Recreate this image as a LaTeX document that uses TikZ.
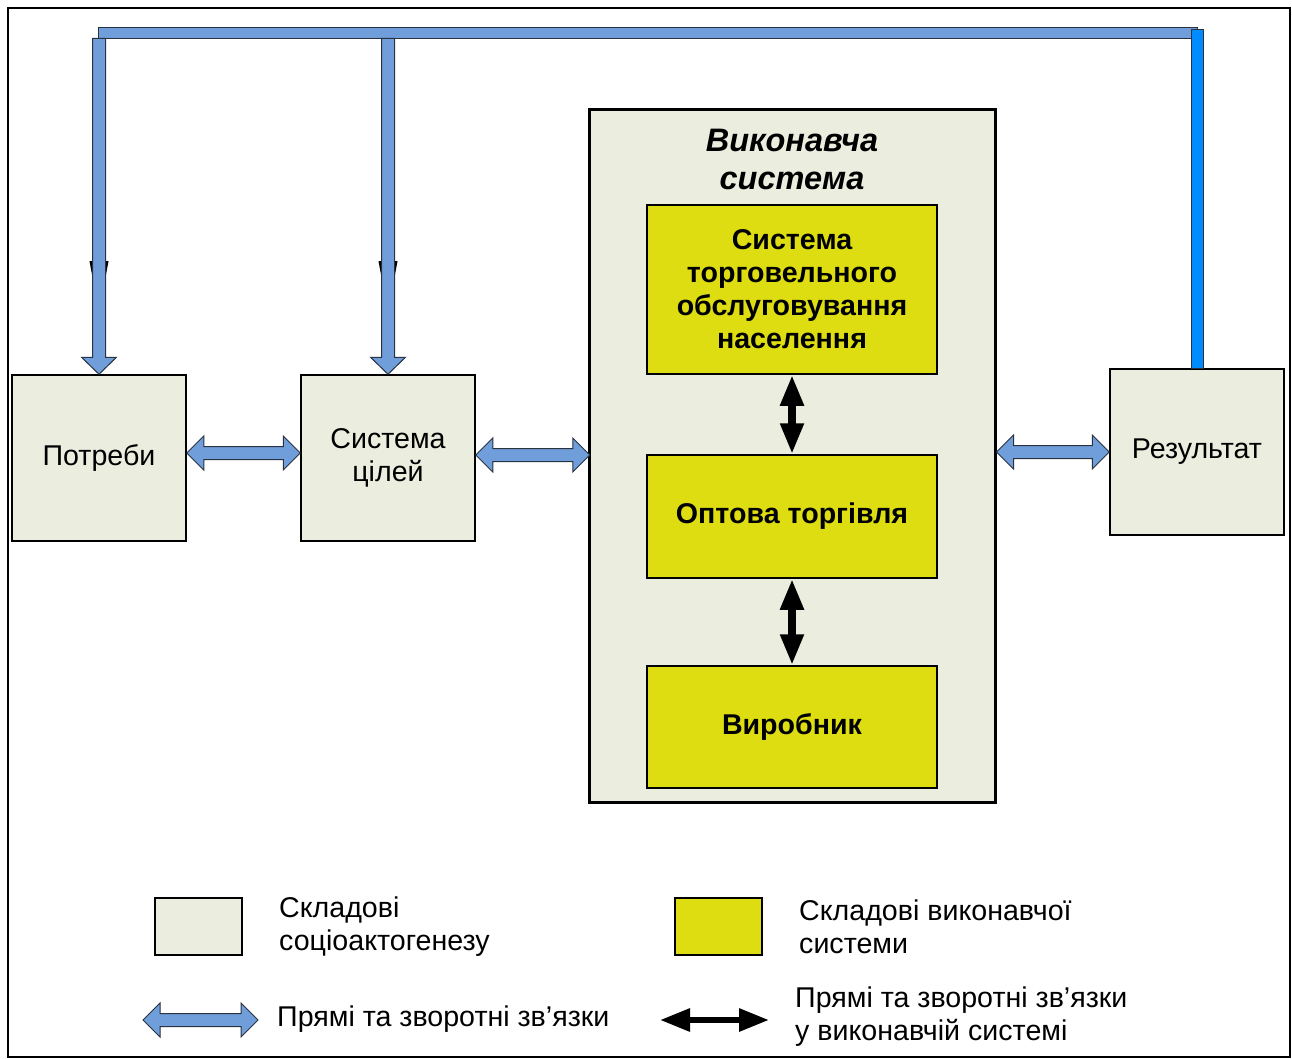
\documentclass[tikz,border=0pt]{standalone}
\usepackage{fontspec}
\setmainfont{Liberation Sans}
\usetikzlibrary{arrows.meta,calc}
\definecolor{socio}{RGB}{235,238,223}
\definecolor{execy}{RGB}{221,221,18}
\definecolor{linkblue}{RGB}{112,158,218}
\definecolor{brightblue}{RGB}{0,140,255}
\definecolor{edgedark}{RGB}{40,50,65}
\tikzset{
  every node/.style={font=\fontsize{28.6}{33}\selectfont},
  sociobox/.style={draw=black, line width=1.5pt, fill=socio, minimum width=174pt, minimum height=166pt, align=center, inner sep=0pt},
  execbox/.style={draw=black, line width=1.5pt, fill=execy, minimum width=290pt, align=center, inner sep=0pt, font=\fontsize{28.6}{33}\selectfont\bfseries},
  bluelink/.style={draw=edgedark, line width=1pt, fill=linkblue, line join=miter},
  blackdarrow/.style={line width=8pt, {Triangle[width=22pt,length=31pt]}-{Triangle[width=22pt,length=31pt]}},
  legtext/.style={anchor=west, align=left, inner sep=0pt}
}
\newcommand\hbluearrow[2]{%
  \draw[bluelink] let \p1=(#1), \p2=(#2) in
   (\x1,\y1) -- (\x1+17pt,\y1+17pt) -- (\x1+17pt,\y1+6.5pt) -- (\x2-17pt,\y1+6.5pt)
   -- (\x2-17pt,\y1+17pt) -- (\x2,\y1) -- (\x2-17pt,\y1-17pt) -- (\x2-17pt,\y1-6.5pt)
   -- (\x1+17pt,\y1-6.5pt) -- (\x1+17pt,\y1-17pt) -- cycle;}
\newcommand\vbluearrow[2]{%
  \fill[black] let \p1=(#1), \p2=(#2) in
   (\x1-9.5pt,\y2+113pt) -- (\x1-6.5pt,\y2+113pt) -- (\x1-6.5pt,\y2+97pt) -- cycle
   (\x1+9.5pt,\y2+113pt) -- (\x1+6.5pt,\y2+113pt) -- (\x1+6.5pt,\y2+97pt) -- cycle;
  \draw[bluelink] let \p1=(#1), \p2=(#2) in
   (\x1-6.5pt,\y1) -- (\x1+6.5pt,\y1) -- (\x1+6.5pt,\y2+17pt) -- (\x1+17.5pt,\y2+17pt)
   -- (\x1,\y2) -- (\x1-17.5pt,\y2+17pt) -- (\x1-6.5pt,\y2+17pt) -- cycle;}
\begin{document}
\begin{tikzpicture}[x=1pt,y=-1pt]
\useasboundingbox (0,0) rectangle (1292,1059);
\draw[line width=2.5pt] (8,8) rectangle (1290,1057);

% main boxes
\node[sociobox] (potr) at (99,458) {Потреби};
\node[sociobox] (cili) at (388,458) {Система\\цілей};
\node[sociobox] (rez) at (1197,452) {Результат};
\node[draw=black, line width=3pt, fill=socio, minimum width=406pt, minimum height=692pt, inner sep=0pt] (vyk) at (792,456) {};
\node[align=center, font=\fontsize{32.5}{38}\selectfont\bfseries\itshape] (vyktitle) at (792,159) {Виконавча\\система};
\node[execbox, minimum height=169pt] (torg) at (792,289.5) {Система\\торговельного\\обслуговування\\населення};
\node[execbox, minimum height=123pt] (opt) at (792,516.5) {Оптова торгівля};
\node[execbox, minimum height=122pt] (vyr) at (792,727) {Виробник};

% top feedback bar
\draw[bluelink] (98,28) rectangle (1197,38.5);
\coordinate (t1) at (99,38.5);
\coordinate (t2) at (388,38.5);
\vbluearrow{t1}{potr.north}
\vbluearrow{t2}{cili.north}
\draw[draw=edgedark, line width=1pt, fill=brightblue] ($(rez.north)+(-6,0)$) rectangle ($(rez.north)+(6,-339)$);

% horizontal links
\hbluearrow{$(potr.east)+(0,-5)$}{$(cili.west)+(0,-5)$}
\hbluearrow{$(cili.east)+(0,-3)$}{$(cili.east)+(114,-3)$}
\hbluearrow{$(vyk.east |- rez.east)$}{rez.west}

% internal links
\draw[blackdarrow] (torg.south) -- (opt.north);
\draw[blackdarrow] (opt.south) -- (vyr.north);

% legend
\node[draw=black, line width=1.5pt, fill=socio, minimum width=87pt, minimum height=57pt, inner sep=0pt] (lg1) at (198.5,926.5) {};
\node[legtext] (lg1t) at (279,927) {Складові\\соціоактогенезу};
\node[draw=black, line width=1.5pt, fill=execy, minimum width=87pt, minimum height=57pt, inner sep=0pt] (lg2) at (718.5,926.5) {};
\node[legtext] (lg2t) at (799,927) {Складові виконавчої\\системи};
\coordinate (lb1) at (143,1020);
\coordinate (lb2) at (258,1020);
\hbluearrow{lb1}{lb2}
\node[legtext] (lb3) at (277,1019) {Прямі та зворотні зв’язки};
\coordinate (lk1) at (660,1020);
\coordinate (lk2) at (769,1020);
\draw[line width=6pt, {Triangle[width=22pt,length=30pt]}-{Triangle[width=22pt,length=30pt]}] (lk1) -- (lk2);
\node[legtext] (lk3) at (795,1017) {Прямі та зворотні зв’язки\\у виконавчій системі};
\end{tikzpicture}
\end{document}
